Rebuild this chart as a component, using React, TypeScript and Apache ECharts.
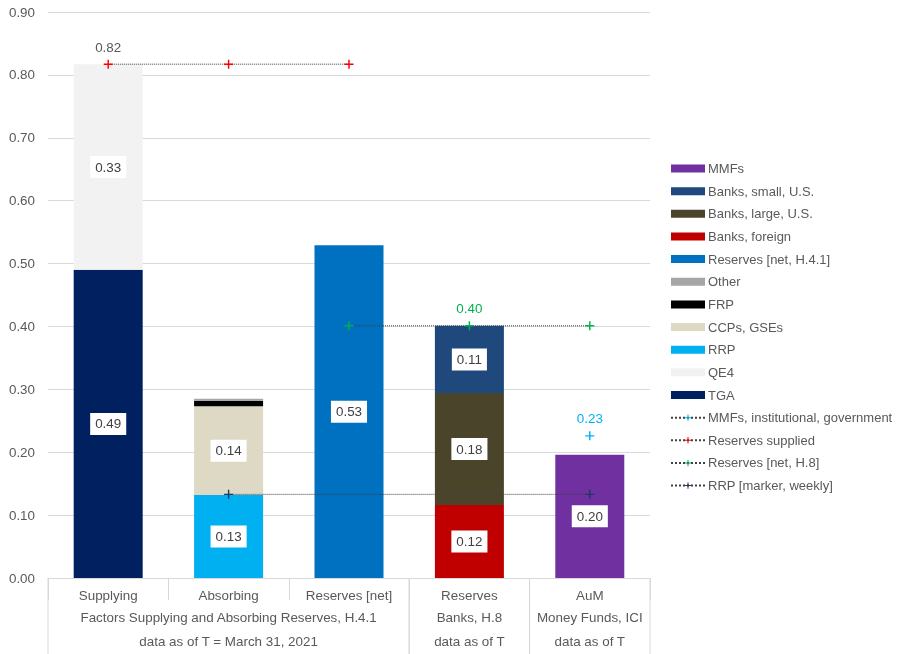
import React, { useEffect, useRef } from 'react';
import * as echarts from 'echarts';

const categories = ['Supplying', 'Absorbing', 'Reserves [net]', 'Reserves', 'AuM'];

// stacked bar components (null = not present in that column)
const tga = [0.49, null, null, null, null];
const qe4 = [0.327, null, null, null, null];
const rrp = [null, 0.132, null, null, null];
const ccps = [null, 0.141, null, null, null];
const frp = [null, 0.009, null, null, null];
const other = [null, 0.003, null, null, null];
const reservesNet41 = [null, null, 0.529, null, null];
const banksForeign = [null, null, null, 0.116, null];
const banksLarge = [null, null, null, 0.178, null];
const banksSmall = [null, null, null, 0.107, null];
const mmfs = [null, null, null, null, 0.196];

// marker lines
const reservesSupplied = [0.817, 0.817, 0.817, null, null];
const reservesNetH8 = [null, null, 0.401, 0.401, 0.401];
const rrpWeekly = [null, 0.133, null, null, 0.133];
const mmfsInstGov = [null, null, null, null, 0.226];

// which point of each marker line carries a value label
const reservesSuppliedLabelAt = 0;
const reservesNetH8LabelAt = 3;
const mmfsInstGovLabelAt = 4;

// second-level axis groups
const groupStart = [0, 3, 4];
const groupEnd = [2, 3, 4];
const groupLine1 = ['Factors Supplying and Absorbing Reserves, H.4.1', 'Banks, H.8', 'Money Funds, ICI'];
const groupLine2 = ['data as of T = March 31, 2021', 'data as of T', 'data as of T'];

const yTicks = [0, 0.9, 0.1];

const FONT = '"Liberation Sans", Arial, sans-serif';
const FS = 13.4;
const TXT = '#595959';
const GRID_C = '#d9d9d9';
const PLUS = 'path://M4.2,0h1.6v4.2h4.2v1.6h-4.2v4.2h-1.6v-4.2h-4.2v-1.6h4.2z';

function barSeries(name: string, data: (number | null)[], color: string, showLabel = true) {
  return {
    name,
    type: 'bar',
    stack: 'total',
    barWidth: 69,
    data,
    itemStyle: { color },
    label: {
      show: showLabel,
      position: 'inside',
      formatter: (p: any) => (p.value == null ? '' : Number(p.value).toFixed(2)),
      backgroundColor: '#ffffff',
      color: '#404040',
      fontSize: FS,
      fontFamily: FONT,
      padding: [5, 5, 4, 5],
    },
  };
}

function lineSeries(name: string, data: (number | null)[], color: string, labelAt: number | null, labelColor: string) {
  return {
    name,
    type: 'line',
    data: data.map((v, i) =>
      i === labelAt && v != null
        ? { value: v, label: { show: true, position: 'top', distance: 6, color: labelColor, fontSize: FS, fontFamily: FONT, formatter: (p: any) => Number(p.value).toFixed(2) } }
        : v
    ),
    connectNulls: true,
    symbol: PLUS,
    symbolSize: 9,
    itemStyle: { color },
    lineStyle: { type: 'dotted', color: '#404040', width: 1 },
    label: { show: false },
    z: 5,
  };
}

export default function App() {
  const ref = useRef<HTMLDivElement>(null);
  useEffect(() => {
    const chart = echarts.init(ref.current!, null, { renderer: 'svg' });
    const barLegend = ['MMFs', 'Banks, small, U.S.', 'Banks, large, U.S.', 'Banks, foreign', 'Reserves [net, H.4.1]', 'Other', 'FRP', 'CCPs, GSEs', 'RRP', 'QE4', 'TGA'];
    const lineLegend = ['MMFs, institutional, government', 'Reserves supplied', 'Reserves [net, H.8]', 'RRP [marker, weekly]'];
    chart.setOption({
      animation: false,
      textStyle: { fontFamily: FONT },
      grid: { left: 48, right: 248, top: 12, bottom: 76 },
      legend: {
        orient: 'vertical',
        left: 665,
        top: 157,
        itemWidth: 34,
        itemHeight: 8,
        itemGap: 9.65,
        textStyle: { color: TXT, fontSize: 13, fontFamily: FONT, padding: [0, 0, 0, -2] },
        data: [
          ...barLegend.map((n) => ({ name: n, icon: 'rect' })),
          ...lineLegend.map((n) => ({ name: n })),
        ],
      },
      xAxis: {
        type: 'category',
        data: categories,
        boundaryGap: true,
        axisLine: { lineStyle: { color: GRID_C } },
        axisTick: { show: true, length: 22, interval: 0, lineStyle: { color: GRID_C } },
        axisLabel: { color: TXT, fontSize: FS, margin: 11, interval: 0 },
      },
      yAxis: {
        type: 'value',
        min: yTicks[0],
        max: yTicks[1],
        interval: yTicks[2],
        axisLine: { show: false },
        axisTick: { show: false },
        axisLabel: { color: TXT, fontSize: FS, margin: 13, formatter: (v: number) => v.toFixed(2) },
        splitLine: { lineStyle: { color: GRID_C } },
      },
      series: [
        barSeries('TGA', tga, '#002060'),
        barSeries('QE4', qe4, '#f2f2f2'),
        barSeries('RRP', rrp, '#00b0f0'),
        barSeries('CCPs, GSEs', ccps, '#ddd9c4'),
        barSeries('FRP', frp, '#000000', false),
        barSeries('Other', other, '#a6a6a6', false),
        barSeries('Reserves [net, H.4.1]', reservesNet41, '#0070c0'),
        barSeries('Banks, foreign', banksForeign, '#c00000'),
        barSeries('Banks, large, U.S.', banksLarge, '#4a452a'),
        barSeries('Banks, small, U.S.', banksSmall, '#1f497d'),
        barSeries('MMFs', mmfs, '#7030a0'),
        lineSeries('MMFs, institutional, government', mmfsInstGov, '#00b0f0', mmfsInstGovLabelAt, '#00b0f0'),
        lineSeries('Reserves supplied', reservesSupplied, '#ff0000', reservesSuppliedLabelAt, TXT),
        lineSeries('Reserves [net, H.8]', reservesNetH8, '#00b050', reservesNetH8LabelAt, '#00b050'),
        lineSeries('RRP [marker, weekly]', rrpWeekly, '#203864', null, TXT),
      ],
    });

    const cx = (i: number) => chart.convertToPixel({ xAxisIndex: 0 }, i) as number;
    const band = cx(1) - cx(0);
    const y0 = chart.convertToPixel({ yAxisIndex: 0 }, 0) as number;
    const bottom = 654;
    const graphics: any[] = [];
    groupStart.forEach((s, g) => {
      const e = groupEnd[g];
      const left = cx(s) - band / 2;
      const right = cx(e) + band / 2;
      const mid = (left + right) / 2;
      graphics.push({ type: 'line', shape: { x1: left, y1: y0, x2: left, y2: bottom }, style: { stroke: GRID_C, lineWidth: 1 } });
      graphics.push({ type: 'line', shape: { x1: right, y1: y0, x2: right, y2: bottom }, style: { stroke: GRID_C, lineWidth: 1 } });
      graphics.push({ type: 'text', x: mid, y: y0 + 39, style: { text: groupLine1[g], align: 'center', verticalAlign: 'middle', fill: TXT, fontSize: FS, fontFamily: FONT } });
      graphics.push({ type: 'text', x: mid, y: y0 + 63, style: { text: groupLine2[g], align: 'center', verticalAlign: 'middle', fill: TXT, fontSize: FS, fontFamily: FONT } });
    });
    chart.setOption({ graphic: graphics });
    return () => chart.dispose();
  }, []);
  return <div ref={ref} style={{ position: 'fixed', left: 0, top: 0, width: 898, height: 654 }} />;
}
